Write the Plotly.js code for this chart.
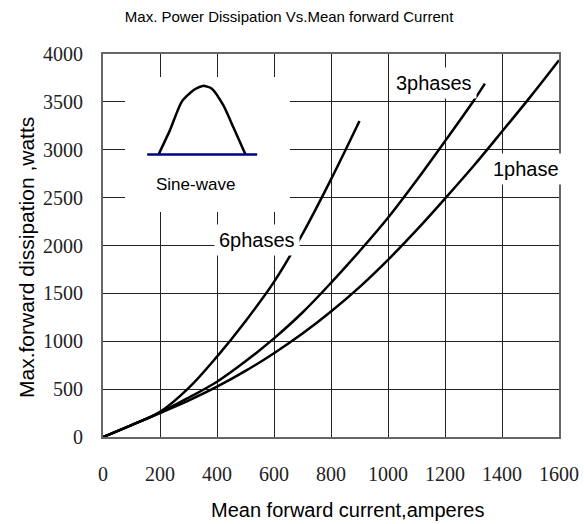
<!DOCTYPE html>
<html>
<head>
<meta charset="utf-8">
<script src="https://cdn.plot.ly/plotly-3.0.1.min.js"></script>
<style>
html,body{margin:0;padding:0;background:#fff;}
#chart{width:584px;height:524px;}
</style>
</head>
<body>
<div id="chart"></div>
<script>
// Mean forward current (A) and max forward dissipation (W)
const current6 = [0, 100, 200, 300, 400, 500, 600, 700, 800, 900];
const power6   = [0, 125, 262, 510, 840, 1210, 1620, 2120, 2690, 3300];

const current3 = [0, 100, 200, 300, 400, 500, 600, 700, 800, 900, 1000, 1100, 1200, 1300, 1340];
const power3   = [0, 125, 255, 410, 577, 790, 1030, 1300, 1610, 1940, 2290, 2680, 3090, 3510, 3690];

const current1 = [0, 100, 200, 300, 400, 500, 600, 700, 800, 900, 1000, 1100, 1200, 1300, 1400, 1500, 1600];
const power1   = [0, 125, 250, 380, 525, 690, 875, 1080, 1310, 1565, 1850, 2160, 2490, 2830, 3190, 3555, 3935];

// Sine-wave inset icon (in data units)
const sineX = [195, 235, 276, 317, 350, 381, 422, 457, 500];
const sineY = [2951, 3205, 3500, 3622, 3667, 3640, 3465, 3238, 2951];
const baseX = [155, 541];
const baseY = [2951, 2951];

// Curve labels
const labelText = ['6phases', '3phases', '1phase', 'Sine-wave'];
const labelX = [540, 1160, 1484, 326];
const labelY = [2057, 3700, 2800, 2632];
const labelSize = [20, 20, 20, 17];

const xTicks = [0, 200, 400, 600, 800, 1000, 1200, 1400, 1600];
const yTicks = [0, 500, 1000, 1500, 2000, 2500, 3000, 3500, 4000];

const curve = {color: '#000', width: 2.5, shape: 'spline'};
const traces = [
  {x: current6, y: power6, mode: 'lines', line: curve, name: '6phases'},
  {x: current3, y: power3, mode: 'lines', line: curve, name: '3phases'},
  {x: current1, y: power1, mode: 'lines', line: curve, name: '1phase'},
  {x: sineX, y: sineY, mode: 'lines', line: {color: '#000', width: 2.5, shape: 'spline', smoothing: 0.6}, name: 'sine'},
  {x: baseX, y: baseY, mode: 'lines', line: {color: '#000080', width: 2.5}, name: 'base'}
];

const sans = 'Liberation Sans, Arial, sans-serif';
const annotations = labelText.map((t, i) => ({
  x: labelX[i], y: labelY[i], xref: 'x', yref: 'y', text: t, showarrow: false,
  font: {family: sans, size: labelSize[i], color: '#000'},
  bgcolor: i < 3 ? '#fff' : 'rgba(0,0,0,0)', borderpad: 4
}));
annotations.push({
  x: (347 - 103) / 456, y: -(510 - 437) / 383, xref: 'paper', yref: 'paper',
  text: 'Mean forward current,amperes', showarrow: false,
  xanchor: 'center', yanchor: 'middle',
  font: {family: sans, size: 20, color: '#000'}
});
annotations.push({
  x: -(103 - 26) / 456, y: (437 - 258) / 383, xref: 'paper', yref: 'paper',
  text: 'Max.forward dissipation ,watts', showarrow: false, textangle: -90,
  xanchor: 'center', yanchor: 'middle',
  font: {family: sans, size: 21, color: '#000'}
});

const axisCommon = {
  showgrid: true, gridcolor: '#222', gridwidth: 1,
  showline: true, linecolor: '#666', linewidth: 2, mirror: true,
  zeroline: false, ticks: '',
  tickfont: {family: 'Liberation Serif, Times New Roman, serif', size: 20, color: '#222'}
};

const layout = {
  width: 584, height: 524,
  margin: {l: 103, r: 25, t: 54, b: 87},
  paper_bgcolor: '#fff', plot_bgcolor: '#fff',
  showlegend: false,
  title: {
    text: 'Max. Power Dissipation Vs.Mean forward Current',
    font: {family: sans, size: 15, color: '#000'},
    x: 0.495, xanchor: 'center', y: 1 - 17 / 524, yanchor: 'middle'
  },
  xaxis: Object.assign({}, axisCommon, {
    range: [0, 1600], tickvals: xTicks, ticktext: xTicks.map(String), ticklabelstandoff: 18
  }),
  yaxis: Object.assign({}, axisCommon, {
    range: [0, 4000], tickvals: yTicks, ticktext: yTicks.map(String), ticklabelstandoff: 14
  }),
  shapes: [{
    type: 'rect', xref: 'x', yref: 'y', x0: 77, x1: 656, y0: 2350, y1: 3760,
    fillcolor: '#fff', line: {width: 0}, layer: 'between'
  }],
  annotations: annotations
};

Plotly.newPlot('chart', traces, layout, {displayModeBar: false, staticPlot: true});
</script>
</body>
</html>
